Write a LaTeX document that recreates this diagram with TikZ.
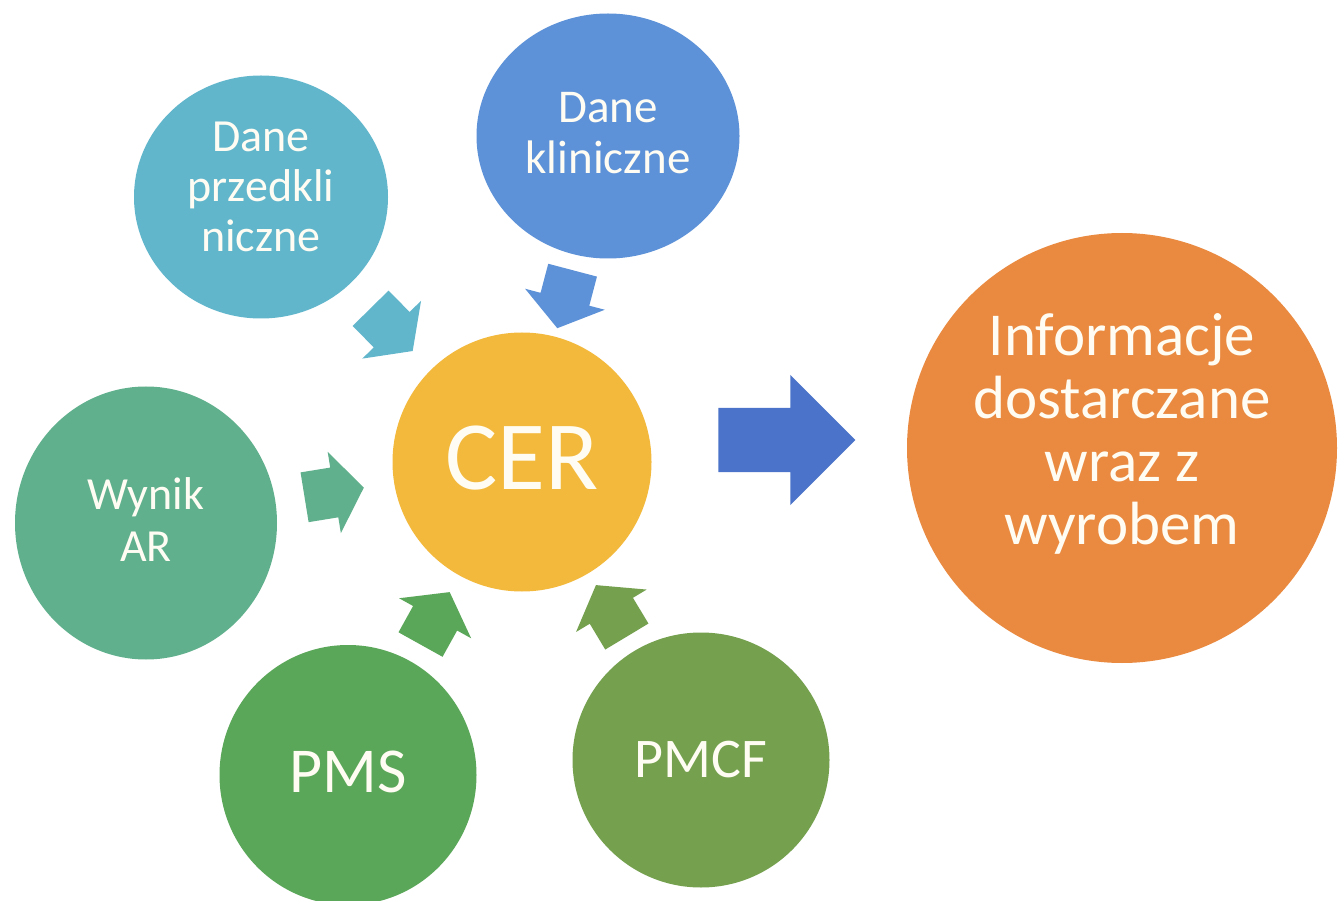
\documentclass[tikz,border=0pt]{standalone}
\usepackage{fontspec}
\setmainfont{Carlito}
\usepackage{tikz}
\usetikzlibrary{shapes.geometric, shapes.arrows, positioning, calc}

\definecolor{preklin}{HTML}{62B6CC}
\definecolor{klin}{HTML}{5E92D8}
\definecolor{cerfill}{HTML}{F3B93D}
\definecolor{wynik}{HTML}{60B08D}
\definecolor{pmsfill}{HTML}{5BA759}
\definecolor{pmcffill}{HTML}{75A14F}
\definecolor{infofill}{HTML}{EA8A41}
\definecolor{outblue}{HTML}{4A73C9}
\definecolor{txtwhite}{HTML}{FFFDF3}

% small block arrow half way between two nodes, pointing at the second one
\newcommand{\feed}[3]{%
  \path let \p1 = ($(#2)-(#1)$), \n1 = {atan2(\y1,\x1)} in
    node [inarrow, fill=#3, rotate=\n1, anchor=tail] at ($(#1)!0.5!(#2) + (\n1:-30pt)$) {};
}

\begin{document}
\begin{tikzpicture}[x=1pt, y=-1pt]

\tikzstyle{ball}=[ellipse, draw=none, inner sep=0pt]
\tikzstyle{txt}=[text=txtwhite, align=center, inner sep=0pt]
\tikzstyle{inarrow}=[single arrow, draw=none, inner xsep=0pt, inner ysep=25pt, minimum height=60pt, single arrow head extend=16pt, single arrow tip angle=108]

\fill[white] (0,0) rectangle (1342,901);
\useasboundingbox (0,0) rectangle (1342,901);

% circles
\node (cer) [ball, fill=cerfill, minimum width=259pt, minimum height=259pt] at (522,462) {};
\node (pre) [ball, fill=preklin, minimum width=254pt, minimum height=243pt] at (261,197) {};
\node (kli) [ball, fill=klin, minimum width=263pt, minimum height=245pt] at (608,136) {};
\node (ar) [ball, fill=wynik, minimum width=262pt, minimum height=273pt] at (146,523) {};
\node (pms) [ball, fill=pmsfill, minimum width=257pt, minimum height=260pt] at (348,775) {};
\node (pmcf) [ball, fill=pmcffill, minimum width=257pt, minimum height=255pt] at (701,760) {};
\node (info) [ball, fill=infofill, minimum width=430pt, minimum height=430pt] at (1122,448) {};

% labels
\node [txt, font=\fontsize{98}{98}\selectfont] at ([yshift=4pt]cer) {CER};
\node [txt, font=\fontsize{46}{50}\selectfont] at ([yshift=10pt]pre) {Dane\\przedkli\\niczne};
\node [txt, font=\fontsize{47}{51}\selectfont] at ([yshift=3pt]kli) {Dane\\kliniczne};
\node [txt, font=\fontsize{46}{52}\selectfont] at ([yshift=3pt]ar) {Wynik\\AR};
\node [txt, font=\fontsize{64}{64}\selectfont] at ([yshift=3pt]pms) {PMS};
\node [txt, font=\fontsize{56}{56}\selectfont] at (pmcf) {PMCF};
\node [txt, font=\fontsize{61}{63}\selectfont] at ([yshift=14pt]info) {Informacje\\dostarczane\\wraz z\\wyrobem};

% inputs of the report
\feed{pre}{cer}{preklin}
\feed{kli}{cer}{klin}
\feed{ar}{cer}{wynik}
\feed{pms}{cer}{pmsfill}
\feed{pmcf}{cer}{pmcffill}

\node (out) [single arrow, draw=none, fill=outblue, inner xsep=0pt, inner ysep=32pt, minimum height=137pt, single arrow head extend=33pt, single arrow tip angle=90, anchor=tail] at ($(cer.east)!0.5!(info.west)+(-61,-15)$) {};

\end{tikzpicture}
\end{document}
